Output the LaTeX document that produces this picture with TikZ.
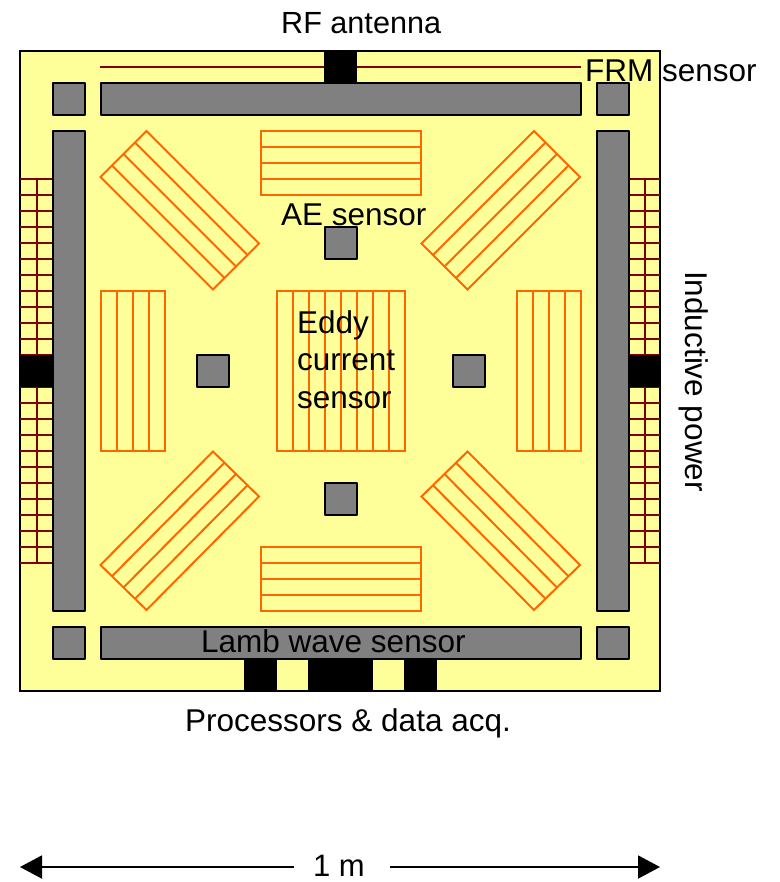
\documentclass[tikz,border=0pt]{standalone}
\usepackage{fontspec}
\setmainfont{Liberation Sans}
\usetikzlibrary{arrows.meta}
\definecolor{panel}{RGB}{255,255,153}
\definecolor{barg}{RGB}{128,128,128}
\definecolor{coil}{RGB}{255,102,0}
\definecolor{wire}{RGB}{128,0,0}
\tikzset{
  x=1pt,y=-1pt,
  bar/.style={draw=black,fill=barg,line width=2pt,line join=round},
  blk/.style={fill=black},
  coilline/.style={draw=coil,line width=2pt,line join=miter},
  wireline/.style={draw=wire,line width=2pt},
  lbl/.style={font=\fontsize{31.5}{31.5}\selectfont,inner sep=0pt,text=black,anchor=base west},
}
\begin{document}
\begin{tikzpicture}
\useasboundingbox (0,0) rectangle (779,882);
% panel
\draw[fill=panel,draw=black,line width=1.5pt] (20,51) rectangle (660,691);
% wires
\draw[wireline] (100,67) -- (581,67);
\foreach \xa/\xb/\xm in {20/52/36.5,628/660/644.5}{
  \foreach \yy in {179,195,...,563} \draw[wireline] (\xa,\yy) -- (\xb,\yy);
  \draw[wireline] (\xm,179) -- (\xm,563);
}
% black blocks
\foreach \xa/\ya/\xb/\yb in {324/51/357/83,20/355/52/387,628/355/660/387,244/659/277/691,308/659/373/691,404/659/437/691}
  \fill[blk] (\xa,\ya) rectangle (\xb,\yb);
% grey bars
\foreach \xa/\ya/\xb/\yb in {52.5/83/84.5/115,596.5/83/628.5/115,52.5/627/84.5/659,596.5/627/628.5/659,100.5/83/581/115,100.5/627/581/659,52.5/131/84.5/611,596.5/131/628.5/611,324.5/227/356.5/259,324.5/483/356.5/515,196.5/355/228.5/387,452.5/355/484.5/387}
  \draw[bar] (\xa,\ya) rectangle (\xb,\yb);
% horizontal coils
\foreach \ya in {131,547}{
  \draw[coilline] (260.5,\ya) rectangle (421,\ya+64);
  \foreach \d in {16,32,48} \draw[coilline] (260.5,\ya+\d) -- (421,\ya+\d);
}
% vertical coils
\foreach \xa in {100.5,516.5}{
  \draw[coilline] (\xa,291) rectangle (\xa+64,451);
  \foreach \d in {16,32,48} \draw[coilline] (\xa+\d,291) -- (\xa+\d,451);
}
\draw[coilline] (276.5,291) rectangle (404.5,451);
\foreach \d in {16,32,...,112} \draw[coilline] (276.5+\d,291) -- (276.5+\d,451);
% diagonal coils
\foreach \ax/\ay/\bx/\by/\lx/\ly in {
  100.5/177/146.5/131/112.5/112.5,
  580/177/534/131/-112.5/112.5,
  100.5/565/146.5/610/112.5/-113.5,
  580/565/534/610/-112.5/-113.5}{
  \draw[coilline] (\ax,\ay) -- (\bx,\by) -- (\bx+\lx,\by+\ly) -- (\ax+\lx,\ay+\ly) -- cycle;
  \foreach \t in {0.25,0.5,0.75}
    \draw[coilline] ({\ax+\t*(\bx-\ax)},{\ay+\t*(\by-\ay)}) -- ({\ax+\t*(\bx-\ax)+\lx},{\ay+\t*(\by-\ay)+\ly});
}
% labels
\node[lbl,font=\fontsize{30.6}{30.6}\selectfont] (rf) at (281,34) {RF antenna};
\node[lbl] (frm) at (585,82) {FRM sensor};
\node[lbl] (ae) at (281,226) {AE sensor};
\node[lbl] (ed1) at (297,333) {Eddy};
\node[lbl] (ed2) at (297,370) {current};
\node[lbl] (ed3) at (297,408) {sensor};
\node[lbl] (lamb) at (201,652) {Lamb wave sensor};
\node[lbl] (proc) at (185,731) {Processors \& data acq.};
\node[lbl,rotate=-90] (ind) at (685,271) {Inductive power};
% dimension
\coordinate (dl) at (20,867);
\coordinate (dr) at (660,867);
\node[font=\fontsize{31}{31}\selectfont,inner sep=0pt,minimum width=96pt,minimum height=30pt] (dim) at (339,866) {1 m};
\draw[line width=2pt,shorten <=-3pt,-{Triangle[length=22pt,width=23pt]}] (dim.west |- dl) -- (dl);
\draw[line width=2pt,shorten <=3pt,-{Triangle[length=22pt,width=23pt]}] (dim.east |- dr) -- (dr);
\end{tikzpicture}
\end{document}
